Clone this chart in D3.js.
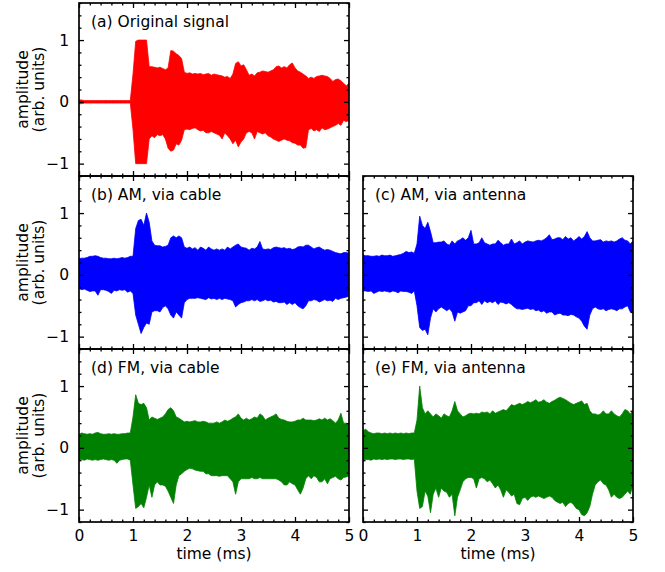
<!DOCTYPE html>
<html>
<head>
<meta charset="utf-8">
<script src="https://cdn.jsdelivr.net/npm/d3@7"></script>
<style>
  body { margin: 0; background: #fff; }
  svg { display: block; font-family: "DejaVu Sans", sans-serif; }
</style>
</head>
<body>
<svg id="svg"></svg>
<script>
// Envelopes (upper / lower) of each recorded waveform, read off the picture
// every 0.05 ms.

var timeMs = [
    0.00,0.05,0.10,0.15,0.20,0.25,0.30,0.35,0.40,0.45,
    0.50,0.55,0.60,0.65,0.70,0.75,0.80,0.85,0.90,0.95,
    1.00,1.05,1.10,1.15,1.20,1.25,1.30,1.35,1.40,1.45,
    1.50,1.55,1.60,1.65,1.70,1.75,1.80,1.85,1.90,1.95,
    2.00,2.05,2.10,2.15,2.20,2.25,2.30,2.35,2.40,2.45,
    2.50,2.55,2.60,2.65,2.70,2.75,2.80,2.85,2.90,2.95,
    3.00,3.05,3.10,3.15,3.20,3.25,3.30,3.35,3.40,3.45,
    3.50,3.55,3.60,3.65,3.70,3.75,3.80,3.85,3.90,3.95,
    4.00,4.05,4.10,4.15,4.20,4.25,4.30,4.35,4.40,4.45,
    4.50,4.55,4.60,4.65,4.70,4.75,4.80,4.85,4.90,4.95,
    5.00
];

var originalUpper = [
    0.03,0.03,0.02,0.02,0.02,0.02,0.02,0.02,0.02,0.02,
    0.02,0.02,0.02,0.02,0.02,0.02,0.02,0.02,0.02,0.02,
    0.45,0.98,1.00,1.00,1.00,1.00,0.57,0.57,0.56,0.55,
    0.56,0.54,0.52,0.55,0.83,0.82,0.78,0.75,0.70,0.48,
    0.46,0.47,0.45,0.46,0.45,0.46,0.44,0.45,0.46,0.43,
    0.45,0.44,0.43,0.42,0.40,0.41,0.38,0.45,0.62,0.65,
    0.58,0.60,0.52,0.43,0.45,0.42,0.47,0.48,0.50,0.49,
    0.48,0.50,0.52,0.57,0.58,0.55,0.57,0.55,0.60,0.63,
    0.55,0.50,0.48,0.45,0.42,0.38,0.40,0.38,0.41,0.42,
    0.43,0.42,0.41,0.38,0.33,0.36,0.37,0.34,0.30,0.26,
    0.30
];
var originalLower = [
    -0.03,-0.03,-0.02,-0.02,-0.02,-0.02,-0.02,-0.02,-0.02,-0.02,
    -0.02,-0.02,-0.02,-0.02,-0.02,-0.02,-0.02,-0.02,-0.02,-0.02,
    -0.45,-1.00,-1.00,-1.00,-1.00,-1.00,-0.60,-0.55,-0.58,-0.53,
    -0.55,-0.53,-0.60,-0.75,-0.80,-0.78,-0.68,-0.70,-0.62,-0.45,
    -0.44,-0.45,-0.43,-0.42,-0.45,-0.47,-0.46,-0.50,-0.50,-0.48,
    -0.50,-0.52,-0.54,-0.60,-0.50,-0.55,-0.60,-0.68,-0.62,-0.73,
    -0.65,-0.60,-0.50,-0.48,-0.50,-0.60,-0.48,-0.50,-0.52,-0.50,
    -0.55,-0.57,-0.60,-0.62,-0.64,-0.62,-0.60,-0.62,-0.63,-0.66,
    -0.67,-0.70,-0.70,-0.75,-0.74,-0.45,-0.43,-0.47,-0.45,-0.48,
    -0.42,-0.45,-0.44,-0.42,-0.40,-0.38,-0.35,-0.38,-0.30,-0.32,
    -0.30
];

var amCableUpper = [
    0.26,0.27,0.27,0.28,0.30,0.30,0.31,0.30,0.28,0.27,
    0.27,0.26,0.26,0.27,0.26,0.27,0.28,0.27,0.28,0.30,
    0.30,0.75,0.88,0.90,0.80,1.00,0.85,0.55,0.48,0.47,
    0.47,0.45,0.46,0.48,0.60,0.63,0.60,0.63,0.60,0.45,
    0.43,0.45,0.42,0.44,0.40,0.45,0.43,0.40,0.45,0.42,
    0.40,0.42,0.40,0.42,0.40,0.45,0.42,0.45,0.48,0.50,
    0.45,0.44,0.43,0.40,0.43,0.42,0.45,0.54,0.42,0.41,
    0.42,0.41,0.44,0.45,0.44,0.43,0.44,0.42,0.43,0.41,
    0.42,0.45,0.46,0.45,0.48,0.48,0.45,0.42,0.44,0.45,
    0.42,0.40,0.41,0.40,0.38,0.36,0.35,0.34,0.36,0.36,
    0.35
];
var amCableLower = [
    -0.22,-0.24,-0.23,-0.25,-0.27,-0.26,-0.26,-0.33,-0.24,-0.24,
    -0.25,-0.27,-0.30,-0.25,-0.26,-0.24,-0.25,-0.24,-0.28,-0.26,
    -0.30,-0.65,-0.80,-0.95,-0.85,-0.78,-0.80,-0.60,-0.58,-0.58,
    -0.60,-0.53,-0.50,-0.55,-0.65,-0.70,-0.60,-0.65,-0.70,-0.45,
    -0.40,-0.38,-0.38,-0.38,-0.37,-0.38,-0.39,-0.40,-0.37,-0.39,
    -0.38,-0.40,-0.38,-0.40,-0.38,-0.39,-0.40,-0.42,-0.52,-0.48,
    -0.45,-0.44,-0.42,-0.42,-0.40,-0.42,-0.40,-0.43,-0.42,-0.40,
    -0.42,-0.41,-0.44,-0.43,-0.45,-0.45,-0.44,-0.48,-0.45,-0.48,
    -0.45,-0.50,-0.53,-0.55,-0.50,-0.42,-0.42,-0.40,-0.41,-0.44,
    -0.42,-0.40,-0.42,-0.41,-0.43,-0.38,-0.40,-0.38,-0.37,-0.36,
    -0.35
];

var amAntennaUpper = [
    0.32,0.31,0.31,0.30,0.30,0.31,0.30,0.32,0.31,0.31,
    0.32,0.30,0.31,0.32,0.33,0.35,0.38,0.36,0.37,0.35,
    0.50,0.95,0.80,0.75,0.85,0.70,0.52,0.52,0.53,0.53,
    0.55,0.50,0.48,0.55,0.50,0.55,0.57,0.60,0.56,0.60,
    0.72,0.50,0.50,0.52,0.60,0.52,0.50,0.48,0.50,0.50,
    0.56,0.52,0.48,0.50,0.50,0.58,0.50,0.52,0.55,0.50,
    0.53,0.55,0.54,0.53,0.55,0.56,0.55,0.57,0.60,0.65,
    0.57,0.58,0.60,0.60,0.57,0.62,0.58,0.60,0.55,0.58,
    0.62,0.58,0.62,0.70,0.60,0.55,0.55,0.56,0.57,0.53,
    0.55,0.54,0.55,0.53,0.55,0.58,0.60,0.56,0.55,0.50,
    0.55
];
var amAntennaLower = [
    -0.26,-0.26,-0.27,-0.26,-0.30,-0.28,-0.26,-0.27,-0.26,-0.27,
    -0.28,-0.26,-0.27,-0.29,-0.26,-0.27,-0.27,-0.28,-0.30,-0.26,
    -0.50,-0.85,-0.90,-0.88,-0.97,-0.70,-0.55,-0.60,-0.55,-0.52,
    -0.55,-0.58,-0.55,-0.60,-0.75,-0.60,-0.62,-0.60,-0.58,-0.50,
    -0.50,-0.45,-0.45,-0.42,-0.48,-0.42,-0.45,-0.43,-0.45,-0.42,
    -0.48,-0.44,-0.45,-0.47,-0.45,-0.48,-0.52,-0.55,-0.55,-0.56,
    -0.55,-0.54,-0.56,-0.55,-0.58,-0.57,-0.60,-0.58,-0.62,-0.60,
    -0.60,-0.65,-0.63,-0.62,-0.65,-0.65,-0.66,-0.64,-0.65,-0.68,
    -0.70,-0.75,-0.83,-0.88,-0.65,-0.55,-0.52,-0.55,-0.56,-0.55,
    -0.58,-0.56,-0.55,-0.56,-0.58,-0.55,-0.55,-0.52,-0.50,-0.60,
    -0.60
];

var fmCableUpper = [
    0.22,0.24,0.23,0.22,0.23,0.22,0.24,0.25,0.23,0.22,
    0.22,0.23,0.22,0.23,0.22,0.22,0.23,0.23,0.24,0.24,
    0.50,0.86,0.72,0.70,0.72,0.65,0.45,0.50,0.48,0.46,
    0.48,0.50,0.55,0.62,0.65,0.60,0.50,0.48,0.45,0.42,
    0.43,0.42,0.43,0.44,0.42,0.42,0.43,0.42,0.40,0.40,
    0.40,0.42,0.40,0.42,0.45,0.43,0.45,0.48,0.50,0.55,
    0.48,0.45,0.48,0.45,0.47,0.50,0.48,0.55,0.52,0.45,
    0.48,0.50,0.52,0.55,0.48,0.46,0.45,0.43,0.42,0.42,
    0.43,0.45,0.45,0.48,0.45,0.45,0.45,0.44,0.45,0.47,
    0.45,0.48,0.45,0.47,0.44,0.40,0.45,0.56,0.40,0.40,
    0.38
];
var fmCableLower = [
    -0.20,-0.19,-0.20,-0.18,-0.19,-0.20,-0.19,-0.20,-0.19,-0.18,
    -0.19,-0.20,-0.19,-0.20,-0.25,-0.20,-0.19,-0.18,-0.18,-0.20,
    -0.60,-0.98,-0.95,-0.90,-0.97,-0.80,-0.60,-0.80,-0.60,-0.55,
    -0.60,-0.60,-0.62,-0.70,-0.80,-0.90,-0.60,-0.45,-0.42,-0.38,
    -0.35,-0.33,-0.34,-0.36,-0.37,-0.38,-0.38,-0.42,-0.42,-0.45,
    -0.45,-0.45,-0.46,-0.45,-0.45,-0.45,-0.50,-0.55,-0.75,-0.55,
    -0.50,-0.50,-0.50,-0.50,-0.48,-0.50,-0.50,-0.48,-0.50,-0.50,
    -0.50,-0.50,-0.50,-0.50,-0.52,-0.55,-0.60,-0.60,-0.55,-0.58,
    -0.60,-0.68,-0.75,-0.65,-0.50,-0.45,-0.50,-0.45,-0.48,-0.55,
    -0.55,-0.50,-0.58,-0.50,-0.48,-0.46,-0.50,-0.52,-0.48,-0.47,
    -0.45
];

var fmAntennaUpper = [
    0.28,0.30,0.26,0.24,0.23,0.24,0.24,0.23,0.24,0.23,
    0.24,0.23,0.24,0.23,0.24,0.23,0.24,0.23,0.24,0.24,
    0.45,1.00,0.65,0.55,0.60,0.55,0.50,0.55,0.52,0.48,
    0.55,0.52,0.50,0.60,0.75,0.60,0.55,0.50,0.52,0.55,
    0.56,0.55,0.56,0.55,0.58,0.57,0.58,0.55,0.60,0.56,
    0.58,0.60,0.62,0.60,0.65,0.70,0.68,0.70,0.72,0.70,
    0.72,0.75,0.73,0.75,0.78,0.74,0.75,0.78,0.74,0.72,
    0.75,0.77,0.80,0.82,0.80,0.78,0.75,0.72,0.70,0.72,
    0.74,0.76,0.70,0.72,0.60,0.55,0.55,0.53,0.55,0.60,
    0.55,0.55,0.60,0.55,0.52,0.50,0.55,0.62,0.60,0.55,
    0.60
];
var fmAntennaLower = [
    -0.20,-0.19,-0.19,-0.20,-0.18,-0.19,-0.18,-0.19,-0.18,-0.19,
    -0.18,-0.18,-0.19,-0.18,-0.18,-0.19,-0.18,-0.18,-0.19,-0.18,
    -0.70,-0.98,-0.95,-0.70,-0.78,-1.05,-0.75,-0.65,-0.80,-0.65,
    -0.70,-0.72,-0.80,-0.75,-1.10,-0.80,-0.68,-0.55,-0.50,-0.48,
    -0.48,-0.50,-0.65,-0.50,-0.48,-0.50,-0.55,-0.52,-0.58,-0.65,
    -0.60,-0.68,-0.80,-0.68,-0.72,-0.78,-0.75,-0.90,-0.92,-0.82,
    -0.80,-0.85,-0.80,-0.78,-0.80,-0.78,-0.80,-0.82,-0.80,-0.78,
    -0.80,-0.85,-0.88,-0.90,-0.88,-0.95,-0.90,-0.88,-0.92,-0.98,
    -1.00,-1.08,-1.10,-1.05,-0.95,-0.75,-0.60,-0.55,-0.52,-0.58,
    -0.60,-0.68,-0.80,-0.75,-0.80,-0.82,-0.80,-0.75,-0.70,-0.75,
    -0.60
];

var yTicks = [-1, 0, 1];
var xTicks = [0, 1, 2, 3, 4, 5];

//////////////////////////////////////////////////////////////////////////////

var width = 665, height = 572;
var colLeft = [79, 363];
var rowTop = [3, 176, 349];
var panelW = 270, panelH = 173;
var fontSize = "15.5px";

var panels = [
    {row: 0, col: 0, label: "(a) Original signal", color: "#ff0000", upper: originalUpper, lower: originalLower},
    {row: 1, col: 0, label: "(b) AM, via cable", color: "#0000ff", upper: amCableUpper, lower: amCableLower},
    {row: 1, col: 1, label: "(c) AM, via antenna", color: "#0000ff", upper: amAntennaUpper, lower: amAntennaLower},
    {row: 2, col: 0, label: "(d) FM, via cable", color: "#008000", upper: fmCableUpper, lower: fmCableLower},
    {row: 2, col: 1, label: "(e) FM, via antenna", color: "#008000", upper: fmAntennaUpper, lower: fmAntennaLower}
];

var x = d3.scaleLinear().domain([0, 5]).range([0, panelW]);
var y = d3.scaleLinear().domain([-1.2, 1.6]).range([panelH, 0]);

var xMinor = d3.range(0, 26).map(function(i) { return i / 5; })
        .filter(function(v) { return v % 1 !== 0; });
var yMinor = d3.range(-6, 9).map(function(i) { return i / 5; })
        .filter(function(v) { return v % 1 !== 0; });

var svg = d3.select("#svg").attr("width", width).attr("height", height);

function styleAxis(g) {
    g.select(".domain").remove();
    g.selectAll("line").attr("stroke", "#000").attr("stroke-width", 1.3);
    g.selectAll("text").attr("fill", "#000").style("font-size", fontSize)
        .style("font-family", "DejaVu Sans");
}

function drawTicks(g, showX, showY) {
    // major + minor ticks on all four sides, pointing inwards
    var sides = [
        {ax: d3.axisLeft(y).tickValues(yTicks), t: null, labels: showY, pad: 10},
        {ax: d3.axisLeft(y).tickValues(yMinor), t: null, minor: true},
        {ax: d3.axisRight(y).tickValues(yTicks), t: "translate(" + panelW + ",0)"},
        {ax: d3.axisRight(y).tickValues(yMinor), t: "translate(" + panelW + ",0)", minor: true},
        {ax: d3.axisTop(x).tickValues(xTicks), t: null},
        {ax: d3.axisTop(x).tickValues(xMinor), t: null, minor: true},
        {ax: d3.axisBottom(x).tickValues(xTicks), t: "translate(0," + panelH + ")", labels: showX, pad: 8},
        {ax: d3.axisBottom(x).tickValues(xMinor), t: "translate(0," + panelH + ")", minor: true}
    ];
    sides.forEach(function(s) {
        var ax = s.ax.tickSize(s.minor ? -2.5 : -5).tickPadding(s.pad || 0);
        if (s.labels) {
            ax.tickFormat(d3.format("d"));
        } else {
            ax.tickFormat("");
        }
        var sub = g.append("g");
        if (s.t) sub.attr("transform", s.t);
        sub.call(ax).call(styleAxis);
    });
}

panels.forEach(function(p, i) {
    var g = svg.append("g")
        .attr("transform", "translate(" + colLeft[p.col] + "," + rowTop[p.row] + ")");

    var clipId = "clip" + i;
    g.append("clipPath").attr("id", clipId)
        .append("rect").attr("width", panelW).attr("height", panelH);

    var area = d3.area()
        .x(function(d, j) { return x(timeMs[j]); })
        .y0(function(d, j) { return y(p.lower[j]); })
        .y1(function(d, j) { return y(p.upper[j]); });

    g.append("path")
        .datum(timeMs)
        .attr("clip-path", "url(#" + clipId + ")")
        .attr("d", area)
        .attr("fill", p.color)
        .attr("stroke", p.color)
        .attr("stroke-width", 0.8)
        .attr("stroke-linejoin", "round");

    drawTicks(g, p.row === 2, p.col === 0);

    g.append("rect")
        .attr("width", panelW).attr("height", panelH)
        .attr("fill", "none").attr("stroke", "#000").attr("stroke-width", 1.7);

    g.append("text")
        .attr("x", 12).attr("y", 24)
        .style("font-size", fontSize)
        .text(p.label);

    if (p.col === 0) {
        var lab = g.append("g")
            .attr("transform", "translate(0," + (panelH / 2) + ") rotate(-90)")
            .attr("text-anchor", "middle")
            .style("font-size", fontSize);
        lab.append("text").attr("x", 0).attr("y", 28 - colLeft[0]).text("amplitude");
        lab.append("text").attr("x", 0).attr("y", 44 - colLeft[0]).text("(arb. units)");
    }

    if (p.row === 2) {
        g.append("text")
            .attr("x", panelW / 2).attr("y", 559 - rowTop[2])
            .attr("text-anchor", "middle")
            .style("font-size", fontSize)
            .text("time (ms)");
    }
});
</script>
</body>
</html>
